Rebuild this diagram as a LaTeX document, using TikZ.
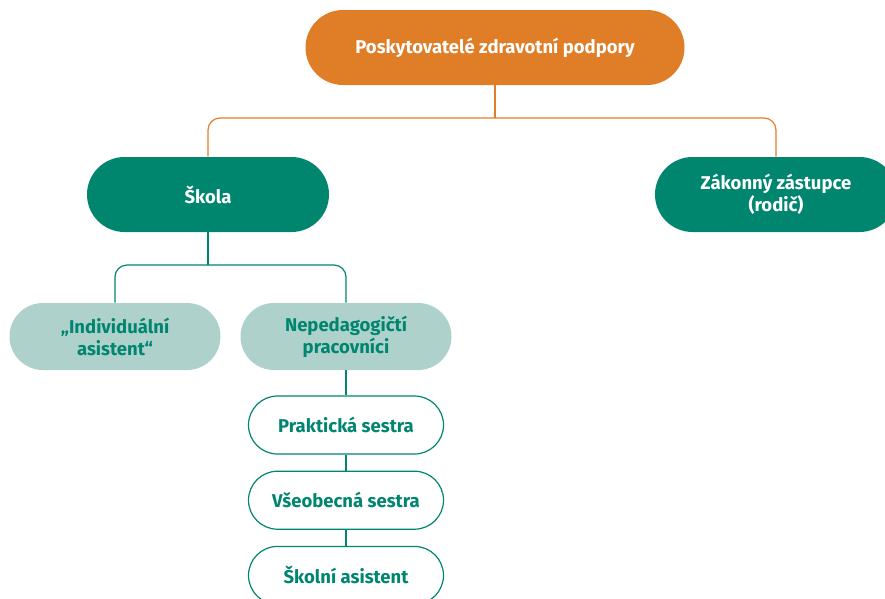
\documentclass[tikz,border=0pt]{standalone}
\usepackage{fontspec}
\setmainfont{Fira Sans}
\usepackage{tikz}
\usetikzlibrary{positioning, calc, shapes.misc}

\definecolor{oranzova}{HTML}{E07E27}
\definecolor{zelena}{HTML}{00866F}
\definecolor{svetla}{HTML}{AED1CC}

\begin{document}
\begin{tikzpicture}[x=1pt, y=-1pt, node distance=16pt, thick,
					box/.style={rounded rectangle, font=\bfseries\fontsize{18.5}{22}\selectfont,
						align=center, inner sep=0pt},
					hlavni/.style={box, fill=oranzova, text=white, minimum width=379pt, minimum height=75pt},
					tmava/.style={box, fill=zelena, text=white, minimum width=242pt, minimum height=75pt},
					svetly/.style={box, fill=svetla, text=zelena, minimum width=211pt, minimum height=67pt},
					bily/.style={box, draw=zelena, line width=1.2pt, fill=white, text=zelena,
						minimum width=195pt, minimum height=58pt},
					spoj/.style={line width=1.2pt, rounded corners=12pt} ]
	\useasboundingbox (0,0) rectangle (885,598);
	
	\node[hlavni] (P) at (495,47.5) {Poskytovatelé zdravotní podpory};
	\node[tmava]  (S) at (208,194.5) {Škola};
	\node[tmava]  (Z) at (776,194.5) {Zákonný zástupce\\(rodič)};
	\node[svetly] (I) at (115,336.5) {„Individuální\\asistent“};
	\node[svetly] (N) at (346,336.5) {Nepedagogičtí\\pracovníci};
	\node[bily, below=25pt of N] (PS) {Praktická sestra};
	\node[bily, below=of PS]     (VS) {Všeobecná sestra};
	\node[bily, below=of VS]     (SA) {Školní asistent};
	
	\coordinate (b1) at (495,118);
	\coordinate (b2) at (208,265);
	
	%Spojnice:
	\draw[spoj, oranzova] (P.south) -- (b1);
	\draw[spoj, oranzova] (S.north) |- (b1) -| (Z.north);
	\draw[spoj, zelena] (S.south) -- (b2);
	\draw[spoj, zelena] (I.north) |- (b2) -| (N.north);
	\draw[spoj, zelena] (N.south) -- (PS.north);
	\draw[spoj, zelena] (PS.south) -- (VS.north);
	\draw[spoj, zelena] (VS.south) -- (SA.north);
\end{tikzpicture}
\end{document}
